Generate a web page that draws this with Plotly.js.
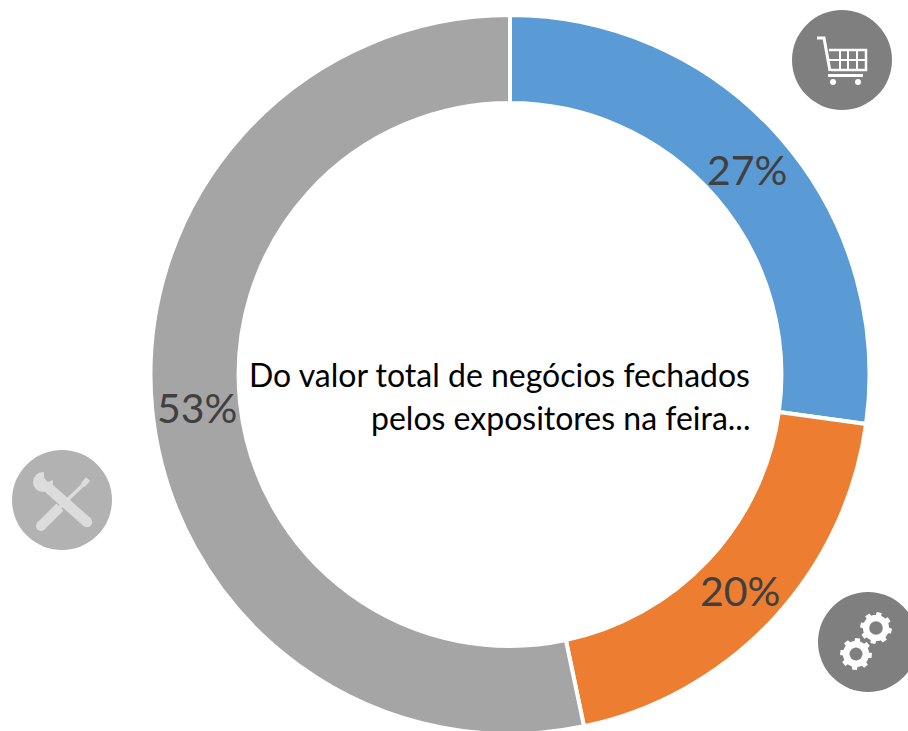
<!DOCTYPE html>
<html><head><meta charset="utf-8">
<script src="https://cdn.plot.ly/plotly-3.0.0.min.js"></script>
<style>html,body{margin:0;padding:0;background:#fff;overflow:hidden}#w{width:908px;height:731px;overflow:hidden}</style></head>
<body><div id="w"><div id="c"></div></div>
<script>
var labels=["Compras","Serviços","Manutenção"];
var values=[27.2,19.5,53.3];
var colors=["#5B9BD5","#ED7D31","#A5A5A5"];
var textLabels=["27%","20%","53%"];
var centerLines=["Do valor total de negócios fechados","pelos expositores na feira..."];
var W=908,H=745,cx=510,cy=374.5,R=359.5;
function X(x){return x/W} function Y(y){return 1-y/H}
function path(pts,close){return pts.map(function(p,i){return (i?"L":"M")+X(p[0])+" "+Y(p[1])}).join(" ")+(close?" Z":"")}
function circle(x,y,r,c){return {type:"circle",xref:"paper",yref:"paper",x0:X(x-r),x1:X(x+r),y0:Y(y+r),y1:Y(y-r),fillcolor:c,line:{width:0}}}
function stroke(pts,c,w){return {type:"path",xref:"paper",yref:"paper",path:path(pts),line:{color:c,width:w},fillcolor:"rgba(0,0,0,0)"}}
function fill(pts,c){return {type:"path",xref:"paper",yref:"paper",path:path(pts,true),fillcolor:c,line:{width:0}}}
function gear(x,y,r,rot){var pts=[],n=8,r2=r*0.82;for(var i=0;i<n;i++){var a=rot+i*2*Math.PI/n,s=2*Math.PI/n;
 [[-.5,r2],[-.27,r2],[-.2,r],[.2,r],[.27,r2],[.5,r2]].forEach(function(q){pts.push([x+q[1]*Math.cos(a+q[0]*s),y+q[1]*Math.sin(a+q[0]*s)])})}return fill(pts,"#fff")}
var shapes=[circle(842,60,50,"#7F7F7F"),circle(62,500,50,"#B2B2B2"),circle(868,642,50,"#7F7F7F")];
// cart
shapes.push(stroke([[817,38],[824,38],[830,71]],"#fff",3));
shapes.push(stroke([[829,50],[866,50],[866,70],[831,70]],"#fff",2.5));
[[829,60,866,60],[840,50,840,70],[848,50,848,70],[857,50,857,70]].forEach(function(l){shapes.push(stroke([[l[0],l[1]],[l[2],l[3]]],"#fff",2))});
shapes.push(stroke([[828,75.5],[863,75.5]],"#fff",3));
shapes.push(circle(833,82,3,"#fff"),circle(858,82,3,"#fff"));
// tools
var t="#DCDCDC",bg="#B2B2B2";
shapes.push(stroke([[60,507],[41,526]],t,10));shapes.push(circle(41,526,5,t));
shapes.push(stroke([[58,509],[85,483]],t,3.5));
shapes.push(stroke([[83,485],[88,479]],t,5.5));
shapes.push(stroke([[44,484],[87,522]],t,10.5));shapes.push(circle(87,522,5.2,t));
shapes.push(circle(43,482,10,t));
shapes.push(fill([[44,469],[44,478],[48,482],[57,478],[52,469]],bg));
// gears
shapes.push(gear(876,628,16,0.2),circle(876,628,6.8,"#7F7F7F"));
shapes.push(gear(856,654,16,0.1),circle(856,654,6.5,"#7F7F7F"));
var font="Lato, Open Sans, sans-serif";
function ann(t,x,y,size,c,anchor){return {text:t,x:X(x),y:Y(y),xref:"paper",yref:"paper",xanchor:anchor,yanchor:"middle",showarrow:false,font:{family:font,size:size,color:c}}}
var annotations=[
 ann(centerLines[0],752,374.5,32,"#000","right"),
 ann(centerLines[1],752,417.5,32,"#000","right"),
 ann(textLabels[0],747,169,41,"#404040","center"),
 ann(textLabels[1],740,590,41,"#404040","center"),
 ann(textLabels[2],197,407,41,"#404040","center")];
var layout={width:W,height:H,margin:{l:0,r:0,t:0,b:0},paper_bgcolor:"#fff",showlegend:false,annotations:annotations,shapes:shapes};
var trace={type:"pie",labels:labels,values:values,hole:0.755,sort:false,direction:"clockwise",rotation:0,
 marker:{colors:colors,line:{color:"#fff",width:4}},textinfo:"none",hoverinfo:"label+percent",
 domain:{x:[(cx-R)/W,(cx+R)/W],y:[1-(cy+R)/H,1-(cy-R)/H]}};
Plotly.newPlot("c",[trace],layout,{displayModeBar:false});
</script></body></html>
